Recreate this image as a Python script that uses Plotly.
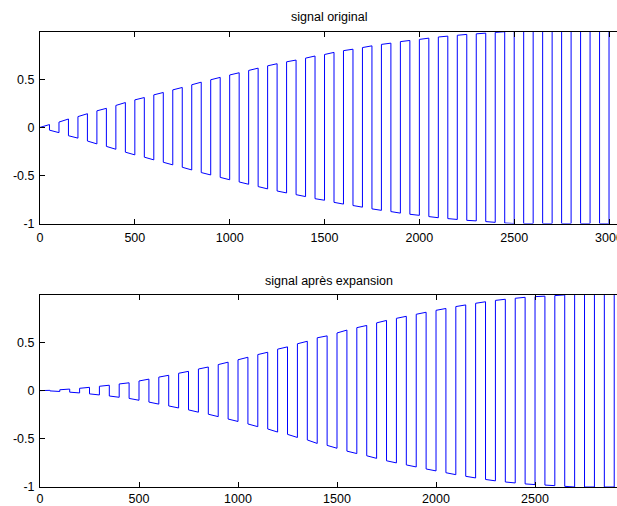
import plotly.graph_objects as go

# sample index of each half-period boundary (half-period = 50 samples)
sample_index = list(range(0, 3001, 50))

# envelope of the original signal read at each boundary
env_original = [
    0.000, 0.029, 0.055, 0.087, 0.112, 0.142, 0.172, 0.198, 0.228, 0.258,
    0.286, 0.310, 0.338, 0.363, 0.390, 0.415, 0.443, 0.470, 0.495, 0.520,
    0.545, 0.568, 0.592, 0.616, 0.640, 0.662, 0.682, 0.700, 0.720, 0.742,
    0.758, 0.780, 0.798, 0.813, 0.830, 0.848, 0.863, 0.876, 0.892, 0.904,
    0.915, 0.928, 0.940, 0.949, 0.958, 0.967, 0.973, 0.980, 0.988, 0.995,
    1.000, 1.000, 1.000, 1.000, 1.000, 1.000, 1.000, 1.000, 1.000, 1.000,
    1.000,
]

# envelope of the expanded signal read at each boundary
env_expanded = [
    0.000, 0.003, 0.009, 0.016, 0.024, 0.034, 0.045, 0.056, 0.069, 0.081,
    0.100, 0.119, 0.140, 0.159, 0.180, 0.200, 0.224, 0.245, 0.270, 0.295,
    0.320, 0.346, 0.374, 0.398, 0.430, 0.454, 0.486, 0.512, 0.548, 0.568,
    0.598, 0.628, 0.653, 0.676, 0.703, 0.728, 0.750, 0.771, 0.792, 0.813,
    0.833, 0.852, 0.872, 0.889, 0.906, 0.922, 0.936, 0.948, 0.958, 0.968,
    0.975, 0.980, 0.986, 0.993, 1.000, 1.000, 1.000, 1.000, 1.000, 1.000,
    1.000,
]

x_ticks_top = [0, 500, 1000, 1500, 2000, 2500, 3000]
x_ticks_bottom = [0, 500, 1000, 1500, 2000, 2500]
y_ticks = [-1, -0.5, 0, 0.5]
y_ticklabels = ["-1", "-0.5", "0", "0.5"]
titles = ["signal original", "signal après expansion"]


def square_wave(idx, env):
    xs, ys = [], []
    for k in range(len(idx) - 1):
        s = 1 if k % 2 == 0 else -1
        xs += [idx[k], idx[k + 1]]
        ys += [s * env[k], s * env[k + 1]]
    s = 1 if (len(idx) - 1) % 2 == 0 else -1
    xs.append(idx[-1])
    ys.append(s * env[-1])
    return xs, ys


W, H = 617, 506
FONT = "Liberation Sans, Arial, Helvetica, sans-serif"
fig = go.Figure()

x1, y1 = square_wave(sample_index, env_original)
x2, y2 = square_wave(sample_index, env_expanded)
fig.add_trace(go.Scatter(x=x1, y=y1, mode="lines", line=dict(color="#0000ff", width=1),
                         xaxis="x", yaxis="y", showlegend=False, hoverinfo="skip"))
fig.add_trace(go.Scatter(x=x2, y=y2, mode="lines", line=dict(color="#0000ff", width=1),
                         xaxis="x2", yaxis="y2", showlegend=False, hoverinfo="skip"))

def xax(rng, ticks, anchor, standoff):
    return dict(range=rng, tickvals=ticks, ticktext=[str(t) for t in ticks],
                ticks="inside", ticklen=5, tickcolor="black", tickwidth=1,
                showline=True, linecolor="black", linewidth=1, mirror="ticks",
                showgrid=False, zeroline=False, anchor=anchor, automargin=False,
                tickfont=dict(family=FONT, size=12.5, color="black"),
                ticklabeloverflow="allow",
                ticklabelstandoff=standoff, domain=[0, 1])

def yax(dom, anchor):
    return dict(range=[-1, 0.992], tickvals=y_ticks, ticktext=y_ticklabels,
                ticks="inside", ticklen=5, tickcolor="black", tickwidth=1,
                showline=True, linecolor="black", linewidth=1, mirror=False,
                showgrid=False, zeroline=False, anchor=anchor, automargin=False,
                tickfont=dict(family=FONT, size=12.5, color="black"),
                ticklabelstandoff=2, domain=dom)

top_dom = [1 - 223.5 / H, 1 - 32 / H]
bot_dom = [1 - 487 / H, 1 - 295 / H]

fig.update_layout(
    template="none",
    width=W, height=H,
    margin=dict(l=40, r=0, t=0, b=0),
    paper_bgcolor="white", plot_bgcolor="white",
    xaxis=xax([0, 3042], x_ticks_top, "y", 2),
    yaxis=yax(top_dom, "x"),
    xaxis2=xax([0, 2914], x_ticks_bottom, "y2", 0),
    yaxis2=yax(bot_dom, "x2"),
    annotations=[
        dict(text=titles[0], x=0.5, y=1 - 17 / H, xref="paper", yref="paper",
             xanchor="center", yanchor="middle", showarrow=False,
             font=dict(family=FONT, size=12.5, color="black")),
        dict(text=titles[1], x=0.5, y=1 - 281 / H, xref="paper", yref="paper",
             xanchor="center", yanchor="middle", showarrow=False,
             font=dict(family=FONT, size=12.5, color="black")),
    ],
)

fig.write_html("out.html", config={"displayModeBar": False},
               post_script="document.body.style.margin='0';document.body.style.overflow='hidden';")
